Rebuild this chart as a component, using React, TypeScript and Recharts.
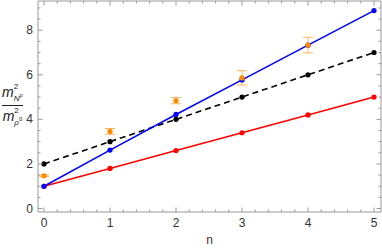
import React from 'react'
import { ComposedChart, Line, XAxis, YAxis, ErrorBar } from 'recharts'

const nValues = [0, 1, 2, 3, 4, 5]
const redValues = [1.0, 1.8, 2.6, 3.4, 4.2, 5.0]
const blueValues = [1.0, 2.62, 4.22, 5.77, 7.33, 8.88]
const blackValues = [2, 3, 4, 5, 6, 7]
const orangeValues = [1.47, 3.46, 4.84, 5.86, 7.33, null]
const orangeErrors = [0.04, 0.13, 0.14, 0.32, 0.35, null]

const xMajorTicks = [0, 1, 2, 3, 4, 5]
const yMajorTicks = [0, 2, 4, 6, 8]
const xTicks = xMajorTicks.flatMap(v => [0, 0.2, 0.4, 0.6, 0.8].map(d => +(v + d).toFixed(1))).filter(v => v <= 5)
const yTicks = [0, 1, 2, 3, 4, 5, 6, 7, 8, 9].flatMap(v => [v, v + 0.5]).filter(v => v <= 9)

const data = nValues.map((n, i) => ({
  n,
  red: redValues[i],
  blue: blueValues[i],
  black: blackValues[i],
  orange: orangeValues[i],
  err: orangeErrors[i],
}))

const FRAME = '#999'
const LABEL = '#333'
const FONT = '"Liberation Sans", Arial, sans-serif'

const isMajor = (v: number, majors: number[]) => majors.some(m => Math.abs(m - v) < 1e-6)

function makeTick(side: 'bottom' | 'top' | 'left' | 'right') {
  return (p: any) => {
    const v = p.payload.value
    const major = side === 'bottom' || side === 'top' ? isMajor(v, xMajorTicks) : isMajor(v, yMajorTicks)
    const len = major ? 4.5 : 2.5
    const { x, y } = p
    let line
    if (side === 'bottom') line = <line x1={x} x2={x} y1={y} y2={y - len} stroke={FRAME} />
    else if (side === 'top') line = <line x1={x} x2={x} y1={y} y2={y + len} stroke={FRAME} />
    else if (side === 'left') line = <line x1={x} x2={x + len} y1={y} y2={y} stroke={FRAME} />
    else line = <line x1={x} x2={x - len} y1={y} y2={y} stroke={FRAME} />
    let label = null
    if (major && side === 'bottom')
      label = <text x={x} y={y + 15} textAnchor="middle" fontSize={12} fill={LABEL} fontFamily={FONT}>{v}</text>
    if (major && side === 'left')
      label = <text x={x - 5} y={y + 4} textAnchor="end" fontSize={12} fill={LABEL} fontFamily={FONT}>{v}</text>
    return <g>{line}{label}</g>
  }
}

function YLabel() {
  const sub: React.CSSProperties = { display: 'inline-flex', flexDirection: 'column', fontSize: 8, lineHeight: '8px', verticalAlign: 'middle', textAlign: 'left' }
  return (
    <div style={{ position: 'absolute', left: 2, top: 83, fontFamily: FONT, fontSize: 14, color: '#222', textAlign: 'center', lineHeight: '15px' }}>
      <div style={{ borderBottom: '1px solid #222', paddingBottom: 2 }}>
        <i>m</i>
        <span style={sub}>
          <span>2</span>
          <span><i>N</i><sup style={{ fontSize: 6 }}>ρ</sup></span>
        </span>
      </div>
      <div style={{ paddingTop: 1 }}>
        <i>m</i>
        <span style={sub}>
          <span>2</span>
          <span><i>ρ</i><sup style={{ fontSize: 6 }}>0</sup></span>
        </span>
      </div>
    </div>
  )
}

export default function App() {
  return (
    <div style={{ position: 'absolute', left: 0, top: 0, width: 382, height: 248, background: '#fff' }}>
      <ComposedChart width={382} height={248} data={data} margin={{ top: 0, right: 0, left: 37, bottom: 35 }}>
        <XAxis xAxisId="b" dataKey="n" type="number" domain={[-0.091, 5.106]} ticks={xTicks} interval={0}
          allowDataOverflow height={1} tickSize={0} tickMargin={0} tickLine={false}
          axisLine={{ stroke: FRAME }} tick={makeTick('bottom')}
          label={{ value: 'n', position: 'bottom', offset: 22, fontSize: 12, fill: LABEL, fontFamily: FONT }} />
        <XAxis xAxisId="t" orientation="top" dataKey="n" type="number" domain={[-0.091, 5.106]} ticks={xTicks} interval={0}
          allowDataOverflow height={1} tickSize={0} tickMargin={0} tickLine={false}
          axisLine={{ stroke: FRAME }} tick={makeTick('top')} />
        <YAxis yAxisId="l" type="number" domain={[-0.156, 9.31]} ticks={yTicks} interval={0}
          allowDataOverflow width={1} tickSize={0} tickMargin={0} tickLine={false}
          axisLine={{ stroke: FRAME }} tick={makeTick('left')} />
        <YAxis yAxisId="r" orientation="right" type="number" domain={[-0.156, 9.31]} ticks={yTicks} interval={0}
          allowDataOverflow width={1} tickSize={0} tickMargin={0} tickLine={false}
          axisLine={{ stroke: FRAME }} tick={makeTick('right')} />
        <Line xAxisId="b" yAxisId="l" dataKey="black" stroke="#000" strokeWidth={1.6} strokeDasharray="6 4"
          dot={{ r: 2.6, fill: '#000', stroke: 'none' }} activeDot={false} isAnimationActive={false} />
        <Line xAxisId="b" yAxisId="l" dataKey="red" stroke="#ff0000" strokeWidth={1.6}
          dot={{ r: 2.6, fill: '#ff0000', stroke: 'none' }} activeDot={false} isAnimationActive={false} />
        <Line xAxisId="b" yAxisId="l" dataKey="blue" stroke="#0000ff" strokeWidth={1.6}
          dot={{ r: 2.6, fill: '#0000ff', stroke: 'none' }} activeDot={false} isAnimationActive={false} />
        <Line xAxisId="b" yAxisId="l" dataKey="orange" stroke="none" connectNulls={false}
          dot={{ r: 2.6, fill: '#ff8c00', stroke: 'none' }} activeDot={false} isAnimationActive={false}>
          <ErrorBar dataKey="err" direction="y" width={5} stroke="#ffb45c" strokeWidth={1} isAnimationActive={false} />
        </Line>
      </ComposedChart>
      <YLabel />
    </div>
  )
}
